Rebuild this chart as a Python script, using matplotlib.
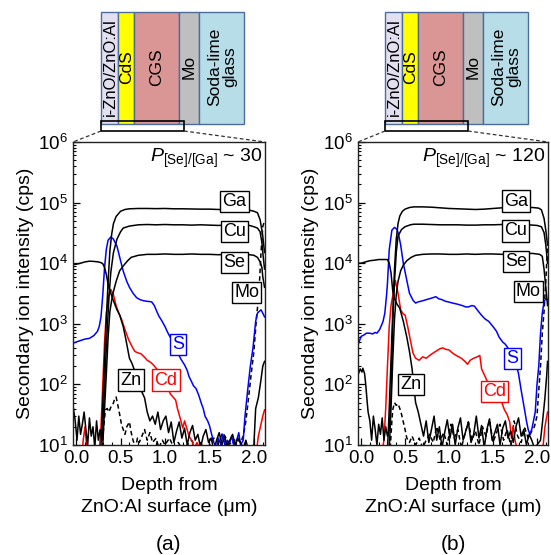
import numpy as np
import matplotlib
matplotlib.use('Agg')
import matplotlib.pyplot as plt
from matplotlib.patches import Rectangle
from matplotlib.ticker import LogLocator, MultipleLocator, FormatStrFormatter

plt.rcParams['font.family'] = ['Liberation Sans', 'DejaVu Sans']
plt.rcParams['mathtext.fontset'] = 'custom'
plt.rcParams['mathtext.rm'] = 'Liberation Sans'
plt.rcParams['mathtext.it'] = 'Liberation Sans:italic'

# ---------------- panel (a): P[Se]/[Ga] ~ 30 ----------------
zn_a_depth = [-0.03, 0.0, 0.05, 0.1, 0.15, 0.2, 0.25, 0.28, 0.3, 0.32, 0.34, 0.36, 0.38,
              0.42, 0.46, 0.49, 0.53, 0.56, 0.6, 0.63, 0.67, 0.7, 0.74, 0.77, 0.8, 0.83,
              0.86, 0.89, 0.92, 0.95, 0.98, 1.01, 1.04, 1.07, 1.1, 1.13, 1.16, 1.19, 1.22,
              1.25, 1.28, 1.31, 1.34, 1.37, 1.4, 1.43, 1.46, 1.49, 1.52, 1.55, 1.58, 1.61,
              1.64, 1.67, 1.7, 1.73, 1.76, 1.79, 1.82, 1.85, 1.88, 1.91, 1.94, 1.97,
              2.0, 2.02, 2.05, 2.08, 2.1, 2.12]
zn_a = [9.5e3, 9.6e3, 1.0e4, 1.05e4, 1.08e4, 1.07e4, 1.05e4, 1.02e4, 9.8e3, 8.5e3, 6.5e3, 4.5e3, 3.5e3,
        2.4e3, 1.7e3, 1.4e3, 900, 550, 270, 220, 150, 100, 75, 60, 35, 25,
        30, 22, 35, 18, 25, 30, 16, 24, 11, 17, 24, 13, 19, 10, 16, 21, 12, 15, 9,
        14, 18, 11, 13, 8, 12, 16, 10, 14, 9, 12, 15, 10, 13, 11, 9, 12, 8, 9,
        10, 40, 60, 120, 200, 240]

cu_a_depth = [-0.03, -0.01, 0.01, 0.03, 0.05, 0.07, 0.09, 0.11, 0.13, 0.15, 0.17, 0.19, 0.21, 0.23,
              0.25, 0.27, 0.29, 0.31, 0.33, 0.35, 0.37, 0.39, 0.42, 0.46, 0.5, 0.53,
              0.6, 0.7, 0.8, 0.9, 1.0, 1.1, 1.2, 1.3, 1.4, 1.5, 1.6, 1.7, 1.8, 1.9,
              1.95, 2.0, 2.04, 2.07, 2.09, 2.1, 2.12]
cu_a = [40, 25, 12, 30, 15, 22, 35, 18, 10, 28, 14, 20, 9, 25, 12, 18, 12,
        40, 200, 800, 2.8e3, 7e3, 1.5e4, 2.5e4, 3.3e4, 3.8e4,
        4.1e4, 4.3e4, 4.35e4, 4.3e4, 4.35e4, 4.3e4, 4.3e4, 4.25e4, 4.3e4, 4.25e4, 4.2e4, 4.25e4, 4.2e4, 4.2e4,
        4.2e4, 4.0e4, 3.8e4, 3.3e4, 2.2e4, 1.5e4, 8e3]

ga_a_depth = [0.26, 0.28, 0.3, 0.32, 0.34, 0.36, 0.38, 0.4, 0.42, 0.45, 0.5, 0.55,
              0.6, 0.7, 0.8, 0.9, 1.0, 1.1, 1.2, 1.3, 1.4, 1.5, 1.6, 1.7, 1.8, 1.9,
              1.95, 2.0, 2.04, 2.07, 2.09, 2.1, 2.12]
ga_a = [6, 10, 50, 250, 1.2e3, 5e3, 1.6e4, 3e4, 4.5e4, 5.9e4, 7.2e4, 7.7e4,
        7.9e4, 8.0e4, 8.0e4, 7.95e4, 8.0e4, 7.9e4, 7.9e4, 7.85e4, 7.8e4, 7.8e4, 7.7e4, 7.7e4, 7.6e4, 7.5e4,
        7.5e4, 7.2e4, 6.8e4, 5.2e4, 3.5e4, 2.8e4, 1.5e4]

se_a_depth = [0.28, 0.3, 0.32, 0.34, 0.36, 0.38, 0.41, 0.45, 0.49, 0.53, 0.58, 0.62,
              0.7, 0.8, 0.9, 1.0, 1.1, 1.2, 1.3, 1.4, 1.5, 1.6, 1.7, 1.8, 1.9,
              1.95, 2.0, 2.04, 2.07, 2.09, 2.1, 2.12]
se_a = [6, 10, 40, 150, 600, 1.6e3, 3e3, 5e3, 7.5e3, 9e3, 1.1e4, 1.25e4,
        1.35e4, 1.4e4, 1.4e4, 1.42e4, 1.4e4, 1.4e4, 1.42e4, 1.4e4, 1.4e4, 1.38e4, 1.4e4, 1.38e4, 1.38e4,
        1.38e4, 1.35e4, 1.25e4, 1.05e4, 8.5e3, 6e3, 4e3]

cd_a_depth = [-0.03, 0.06, 0.08, 0.1, 0.12, 0.14, 0.24, 0.26, 0.28, 0.3, 0.32, 0.34,
              0.37, 0.39, 0.42, 0.45, 0.48, 0.51, 0.55, 0.59, 0.63, 0.66, 0.7, 0.73,
              0.77, 0.8, 0.84, 0.87, 0.92, 0.97, 1.02, 1.06, 1.09, 1.12, 1.14, 1.17,
              1.2, 1.22, 1.24, 1.27, 1.3, 1.33, 1.36, 1.4, 1.45,
              2.0, 2.03, 2.05, 2.08, 2.1, 2.12]
cd_a = [5, 5, 12, 20, 9, 5, 5, 8, 20, 100, 500, 1.5e3,
        3e3, 3.7e3, 3e3, 2e3, 1.5e3, 1.2e3, 800, 550, 420, 350, 330, 320,
        280, 250, 230, 210, 170, 130, 95, 70, 62, 55, 40, 28,
        19, 25, 20, 14, 12, 9, 11, 8, 5,
        5, 8, 14, 22, 30, 38]

s_a_depth = [-0.03, 0.0, 0.05, 0.1, 0.15, 0.2, 0.24, 0.26, 0.28, 0.3, 0.32, 0.34,
             0.36, 0.39, 0.42, 0.46, 0.5, 0.53, 0.57, 0.6, 0.64, 0.68, 0.72, 0.76,
             0.8, 0.85, 0.88, 0.9, 0.93, 0.96, 1.0, 1.03, 1.07, 1.1, 1.14, 1.18,
             1.22, 1.25, 1.27, 1.3, 1.32, 1.35, 1.38, 1.41, 1.43, 1.45, 1.48, 1.5,
             1.53, 1.55, 1.58, 1.6, 1.63, 1.65, 1.68, 1.7, 1.72, 1.75, 1.78, 1.8,
             1.83, 1.85, 1.88, 1.9, 1.93, 1.96, 1.99, 2.02, 2.04, 2.06, 2.08, 2.1, 2.12]
s_a = [480, 500, 530, 560, 575, 640, 750, 900, 1.3e3, 3e3, 8.5e3, 1.7e4,
       2.4e4, 2.7e4, 2.5e4, 1.9e4, 1.1e4, 7.4e3, 5e3, 4e3, 3.2e3, 2.7e3, 2.5e3, 2.4e3,
       2.35e3, 2.3e3, 2.0e3, 1.7e3, 1.35e3, 1.15e3, 900, 720, 560, 450, 340, 260,
       210, 170, 135, 110, 95, 85, 66, 48, 40, 30, 25, 21,
       14, 11, 9, 13, 10, 15, 9, 12, 10, 14, 9, 11,
       16, 10, 12, 30, 80, 200, 400, 1.1e3, 1.5e3, 1.6e3, 1.7e3, 1.5e3, 1.3e3]

mo_a_depth = [0.27, 0.29, 0.31, 0.33, 0.35, 0.37, 0.39, 0.41, 0.43, 0.45, 0.47, 0.49, 0.51, 0.53, 0.55, 0.57,
              0.6, 0.62, 0.64, 0.67, 0.69, 0.71, 0.74, 0.77, 0.8, 0.83, 0.86, 0.9,
              0.93, 0.97, 1.0, 1.05, 1.1, 1.15, 1.2, 1.25, 1.3, 1.35, 1.4, 1.45,
              1.5, 1.55, 1.6, 1.65, 1.7, 1.75, 1.8, 1.85, 1.88, 1.91, 1.94, 1.97,
              2.0, 2.03, 2.05, 2.06, 2.08, 2.1, 2.12]
mo_a = [5, 8, 20, 38, 40, 35, 42, 45, 55, 62, 45, 32, 22, 18, 15, 20,
        24, 16, 12, 9, 13, 11, 14, 18, 12, 16, 11, 13,
        9, 12, 10, 13, 9, 11, 8, 10, 12, 9, 11, 8,
        10, 13, 11, 16, 12, 10, 13, 11, 14, 25, 60, 150,
        350, 1.3e3, 2.5e3, 4e3, 1.5e4, 4e4, 5e4]

# ---------------- panel (b): P[Se]/[Ga] ~ 120 ----------------
zn_b_depth = [-0.03, 0.0, 0.05, 0.1, 0.15, 0.2, 0.25, 0.3, 0.32, 0.34, 0.36, 0.38, 0.41, 0.44,
              0.48, 0.52, 0.55, 0.58, 0.6, 0.62, 0.65, 0.68,
              0.71, 0.74, 0.77, 0.8, 0.83, 0.86, 0.89, 0.92, 0.95, 0.98, 1.01, 1.04, 1.07,
              1.1, 1.13, 1.16, 1.19, 1.22, 1.25, 1.28, 1.31, 1.34, 1.37, 1.4, 1.43, 1.46,
              1.49, 1.52, 1.55, 1.58, 1.61, 1.64, 1.67, 1.7, 1.73, 1.76, 1.79, 1.82, 1.85,
              1.88, 1.91, 1.94, 1.97,
              2.0, 2.04, 2.06, 2.09, 2.11, 2.12]
zn_b = [1.0e4, 1.0e4, 1.05e4, 1.1e4, 1.12e4, 1.15e4, 1.15e4, 1.15e4, 1.0e4, 7e3, 3.5e3, 2.6e3, 2.1e3, 1.8e3,
        1.1e3, 600, 350, 180, 90, 50, 35, 22,
        14, 25, 11, 18, 30, 12, 20, 9, 16, 26, 13, 22, 10, 19, 28, 12, 17, 24, 11, 15,
        30, 13, 21, 9, 18, 27, 12, 16, 22, 10, 19, 25, 13, 17, 11, 20, 28, 14, 18, 10,
        15, 12, 9,
        10, 12, 22, 60, 140, 240]

cu_b_depth = [-0.03, -0.01, 0.01, 0.02, 0.04, 0.05, 0.06, 0.07, 0.08, 0.1, 0.12, 0.14,
              0.16, 0.18, 0.2, 0.22, 0.24, 0.26, 0.28, 0.3, 0.32, 0.34, 0.36, 0.38,
              0.4, 0.42, 0.46, 0.5, 0.56, 0.6,
              0.7, 0.8, 0.9, 1.0, 1.1, 1.2, 1.3, 1.4, 1.5, 1.6, 1.7, 1.8, 1.9, 2.0,
              2.05, 2.08, 2.1, 2.12]
cu_b = [150, 180, 160, 185, 150, 110, 75, 50, 35, 25, 12, 30,
        18, 10, 22, 15, 28, 12, 20, 14, 18, 60, 1e3, 5e3,
        1.5e4, 2.8e4, 3.6e4, 4e4, 4.3e4, 4.4e4,
        4.4e4, 4.35e4, 4.3e4, 4.3e4, 4.3e4, 4.25e4, 4.25e4, 4.3e4, 4.3e4, 4.35e4, 4.35e4, 4.3e4, 4.3e4, 4.2e4,
        4.0e4, 3.2e4, 2e4, 1e4]

ga_b_depth = [0.3, 0.32, 0.34, 0.36, 0.38, 0.4, 0.42, 0.44, 0.47, 0.5, 0.55,
              0.6, 0.7, 0.8, 0.9, 1.0, 1.1, 1.2, 1.3, 1.4, 1.5, 1.6, 1.7, 1.8, 1.9,
              1.95, 2.02, 2.05, 2.08, 2.1, 2.12]
ga_b = [8, 40, 250, 1.5e3, 8e3, 2.5e4, 4.5e4, 6e4, 7.2e4, 7.8e4, 8.3e4,
        8.5e4, 8.5e4, 8.4e4, 8.2e4, 8.0e4, 7.9e4, 7.8e4, 7.7e4, 7.8e4, 8.0e4, 8.2e4, 8.3e4, 8.3e4, 8.3e4,
        8.3e4, 8.1e4, 7.6e4, 5.5e4, 3.5e4, 2e4]

se_b_depth = [0.3, 0.32, 0.34, 0.36, 0.38, 0.4, 0.42, 0.45, 0.48, 0.52, 0.57, 0.62,
              0.7, 0.8, 0.9, 1.0, 1.1, 1.2, 1.3, 1.4, 1.5, 1.6, 1.7, 1.8, 1.9,
              1.95, 2.03, 2.06, 2.08, 2.1, 2.12]
se_b = [5, 8, 40, 250, 1.2e3, 3e3, 5e3, 7.5e3, 9.3e3, 1.1e4, 1.25e4, 1.35e4,
        1.4e4, 1.42e4, 1.42e4, 1.4e4, 1.4e4, 1.42e4, 1.4e4, 1.42e4, 1.42e4, 1.4e4, 1.42e4, 1.45e4, 1.45e4,
        1.45e4, 1.4e4, 1.3e4, 8e3, 4e3, 2e3]

cd_b_depth = [0.22, 0.24, 0.26, 0.28, 0.3, 0.32, 0.34, 0.37, 0.39, 0.42, 0.45, 0.48,
              0.5, 0.53, 0.56, 0.59, 0.62, 0.66, 0.7, 0.74, 0.78, 0.82, 0.86, 0.9,
              0.93, 0.96, 1.0, 1.05, 1.1, 1.14, 1.18, 1.21, 1.24, 1.28, 1.32, 1.35,
              1.37, 1.41, 1.45, 1.5, 1.55, 1.6, 1.63, 1.66, 1.69, 1.71, 1.73, 1.75,
              1.77, 1.8, 2.04, 2.07, 2.09, 2.12]
cd_b = [5, 8, 12, 40, 200, 900, 2e3, 3.5e3, 5.2e3, 3.2e3, 1.7e3, 1.45e3,
        1.4e3, 900, 540, 330, 270, 250, 285, 270, 300, 330, 360, 390,
        400, 380, 370, 320, 290, 270, 240, 215, 250, 270, 285, 300,
        180, 135, 100, 80, 65, 50, 38, 32, 24, 13, 20, 12,
        9, 5, 5, 10, 20, 35]

s_b_depth = [-0.03, 0.0, 0.03, 0.06, 0.1, 0.13, 0.16, 0.18, 0.21, 0.23, 0.25, 0.27,
             0.29, 0.3, 0.32, 0.35, 0.38, 0.41, 0.43, 0.45, 0.48, 0.52, 0.55, 0.59,
             0.62, 0.65, 0.7, 0.74, 0.8, 0.85, 0.88, 0.92, 0.96, 0.99, 1.04, 1.1,
             1.15, 1.19, 1.22, 1.26, 1.29, 1.32, 1.35, 1.37, 1.41, 1.45, 1.5, 1.54,
             1.57, 1.61, 1.64, 1.68, 1.72, 1.76, 1.79, 1.82, 1.85, 1.88, 1.9, 1.92,
             1.94, 1.96, 1.98, 2.0, 2.02, 2.04, 2.06, 2.08, 2.1, 2.12]
s_b = [470, 620, 650, 700, 700, 680, 720, 700, 800, 930, 1.1e3, 1.5e3,
       3e3, 4.7e3, 1.66e4, 3.5e4, 3.9e4, 3.6e4, 2.8e4, 2e4, 1e4, 5.2e3, 3.2e3, 2.45e3,
       2.2e3, 2.3e3, 2.4e3, 2.5e3, 2.65e3, 2.8e3, 2.6e3, 2.5e3, 2.35e3, 2.3e3, 2.2e3, 2.1e3,
       2.0e3, 1.9e3, 1.9e3, 2.0e3, 1.95e3, 1.7e3, 1.5e3, 1.38e3, 1.2e3, 1.1e3, 900, 750,
       600, 500, 460, 380, 300, 220, 150, 80, 45, 25, 18, 15,
       18, 25, 35, 100, 200, 700, 1.5e3, 2.3e3, 2.6e3, 2.5e3]

mo_b_depth = [0.31, 0.33, 0.35, 0.36, 0.38, 0.4, 0.42, 0.44, 0.46, 0.48, 0.5, 0.52,
              0.55, 0.58, 0.62, 0.66, 0.7, 0.74, 0.78, 0.82, 0.86, 0.9, 0.94, 0.98,
              1.02, 1.06, 1.1, 1.14, 1.18, 1.22, 1.26, 1.3, 1.34, 1.38, 1.42, 1.46,
              1.5, 1.54, 1.58, 1.62, 1.66, 1.7, 1.74, 1.78, 1.82, 1.86, 1.9, 1.94,
              1.97, 2.0, 2.02, 2.04, 2.06, 2.08, 2.1, 2.12]
mo_b = [5, 8, 25, 38, 50, 45, 48, 40, 32, 24, 18, 13,
        11, 14, 10, 13, 9, 12, 15, 11, 20, 12, 16, 10,
        22, 13, 18, 9, 15, 24, 12, 17, 10, 20, 14, 26,
        11, 16, 22, 12, 18, 10, 25, 14, 11, 19, 13, 17,
        20, 30, 80, 200, 700, 1.6e3, 5e3, 2e4]

# element label positions (depth, intensity) and ratio text
labels_a = {'Ga': (1.78, 1.04e5), 'Cu': (1.78, 3.3e4), 'Se': (1.78, 1.04e4), 'Mo': (1.92, 3.3e3),
            'S': (1.15, 450), 'Cd': (1.01, 118), 'Zn': (0.62, 118)}
labels_b = {'Ga': (1.76, 1.06e5), 'Cu': (1.76, 3.4e4), 'Se': (1.76, 1.07e4), 'Mo': (1.9, 3.4e3),
            'S': (1.72, 270), 'Cd': (1.52, 76), 'Zn': (0.57, 100)}
ratios = ['30', '120']

# device stack schematic
layer_names = ['i-ZnO/ZnO:Al', 'CdS', 'CGS', 'Mo', 'Soda-lime\nglass']
layer_colors = ['#e2e0f0', '#ffff00', '#d99694', '#bfbfbf', '#b7dee8']
layer_widths = [17, 16, 45, 20, 45]
layer_fontsizes = [12, 12.5, 12.5, 12.5, 12.5]

label_colors = {'Ga': 'black', 'Cu': 'black', 'Se': 'black', 'Mo': 'black',
                'S': '#0000ff', 'Cd': '#ff0000', 'Zn': 'black'}

W, H = 551, 555
fig = plt.figure(figsize=(W / 100, H / 100), dpi=100)
ax_a = fig.add_axes([73 / W, 1 - 445 / H, 192 / W, 303 / H])
ax_b = fig.add_axes([358 / W, 1 - 445 / H, 190 / W, 303 / H])

panels = [
    (ax_a, [(zn_a_depth, zn_a), (cu_a_depth, cu_a), (ga_a_depth, ga_a), (se_a_depth, se_a)],
     (cd_a_depth, cd_a), (s_a_depth, s_a), (mo_a_depth, mo_a), labels_a, ratios[0], '(a)'),
    (ax_b, [(zn_b_depth, zn_b), (cu_b_depth, cu_b), (ga_b_depth, ga_b), (se_b_depth, se_b)],
     (cd_b_depth, cd_b), (s_b_depth, s_b), (mo_b_depth, mo_b), labels_b, ratios[1], '(b)'),
]

for ax, blacks, cd, s, mo, labels, ratio, tag in panels:
    ax.plot(mo[0], mo[1], color='black', lw=1.1, ls=(0, (3, 2)))
    ax.plot(s[0], s[1], color='#0000ff', lw=1.1)
    ax.plot(cd[0], cd[1], color='#ff0000', lw=1.1)
    for d, v in blacks:
        ax.plot(d, v, color='black', lw=1.1)

    ax.set_yscale('log')
    ax.set_ylim(10, 1e6)
    ax.set_xlim(-0.035, 2.125)
    ax.yaxis.set_major_locator(LogLocator(base=10, numticks=10))
    ax.yaxis.set_minor_locator(LogLocator(base=10, subs=np.arange(2, 10), numticks=10))
    ax.set_xticks([0.0, 0.5, 1.0, 1.5, 2.0])
    ax.xaxis.set_major_formatter(FormatStrFormatter('%.1f'))
    ax.xaxis.set_minor_locator(MultipleLocator(0.1))
    ax.tick_params(which='both', direction='in', top=False, right=False, labelsize=13.5)
    ax.tick_params(which='major', length=5, width=0.9)
    ax.tick_params(which='minor', length=2.5, width=0.8)
    for sp in ax.spines.values():
        sp.set_linewidth(1.0)
        sp.set_color('#222222')
    ax.set_xlabel('Depth from\nZnO:Al surface (\u03bcm)', fontsize=14, labelpad=7, linespacing=1.4)
    ax.set_ylabel('Secondary ion intensity (cps)', fontsize=14, labelpad=3)

    for name, (x, y) in labels.items():
        c = label_colors[name]
        ax.text(x, y, name, fontsize=13, color=c, ha='center', va='center', zorder=5,
                bbox=dict(boxstyle='square,pad=0.12', fc='white', ec=c, lw=1.0))
    ax.text(0.985, 0.935, r'$P_{\mathrm{[Se]/[Ga]}}$ ~ ' + ratio, transform=ax.transAxes,
            ha='right', va='baseline', fontsize=14)

    pos = ax.get_position()
    fig.text(pos.x0 + pos.width / 2, 1 - 544 / H, tag, ha='center', va='center', fontsize=15)

# schematic overlay in pixel units
ov = fig.add_axes([0, 0, 1, 1], zorder=10)
ov.set_xlim(0, W)
ov.set_ylim(H, 0)
ov.axis('off')

for ax, x0 in [(ax_a, 101), (ax_b, 385)]:
    x = x0
    for name, col, w, fs in zip(layer_names, layer_colors, layer_widths, layer_fontsizes):
        ov.add_patch(Rectangle((x, 12), w, 112, fc=col, ec='#4f6d9a', lw=1.0))
        ov.text(x + w / 2 + 0.5, 67, name, rotation=90, ha='center', va='center', fontsize=fs,
                linespacing=1.05)
        x += w
    ov.add_patch(Rectangle((x0, 121), 83, 10, fill=False, ec='black', lw=1.2))
    pos = ax.get_position()
    top = (1 - pos.y1) * H
    ov.plot([x0, pos.x0 * W], [131, top], color='#333333', lw=0.9, ls=(0, (3, 2)))
    ov.plot([x0 + 83, pos.x1 * W], [131, top], color='#333333', lw=0.9, ls=(0, (3, 2)))

fig.savefig('out.png', dpi=100)
